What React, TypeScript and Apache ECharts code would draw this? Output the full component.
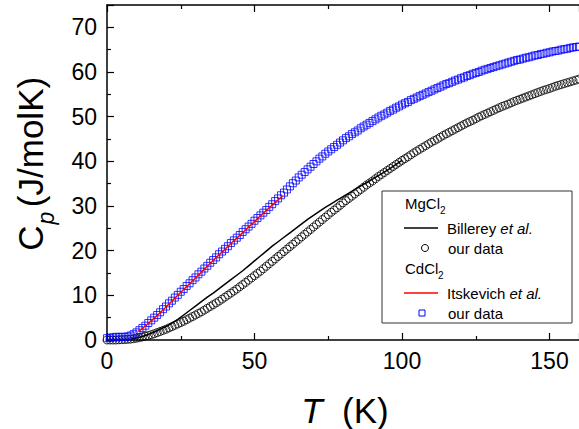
import React, { useEffect, useRef } from "react";
import * as echarts from "echarts";

// Temperature grid (K) shared by the two measured data sets
const temps = [
  0, 1, 2, 3, 4, 5, 6, 7, 8, 9, 10, 11, 12, 13, 14, 15, 16, 17, 18, 19,
  20, 21, 22, 23, 24, 25, 26, 27, 28, 29, 30, 31, 32, 33, 34, 35, 36, 37, 38, 39,
  40, 41, 42, 43, 44, 45, 46, 47, 48, 49, 50, 51, 52, 53, 54, 55, 56, 57, 58, 59,
  60, 61, 62, 63, 64, 65, 66, 67, 68, 69, 70, 71, 72, 73, 74, 75, 76, 77, 78, 79,
  80, 81, 82, 83, 84, 85, 86, 87, 88, 89, 90, 91, 92, 93, 94, 95, 96, 97, 98, 99,
  100, 101, 102, 103, 104, 105, 106, 107, 108, 109, 110, 111, 112, 113, 114, 115, 116, 117, 118, 119,
  120, 121, 122, 123, 124, 125, 126, 127, 128, 129, 130, 131, 132, 133, 134, 135, 136, 137, 138, 139,
  140, 141, 142, 143, 144, 145, 146, 147, 148, 149, 150, 151, 152, 153, 154, 155, 156, 157, 158, 159, 160,
];

// CdCl2, our data (J/molK)
const cdOurs = [
  0.4, 0.5, 0.6, 0.7, 0.7, 0.7, 0.7, 0.8, 1.0, 1.3,
  1.7, 2.2, 2.7, 3.2, 3.8, 4.4, 5.0, 5.6, 6.2, 6.9,
  7.5, 8.2, 8.8, 9.5, 10.1, 10.8, 11.4, 12.1, 12.7, 13.4,
  14.0, 14.7, 15.3, 16.0, 16.6, 17.3, 17.9, 18.5, 19.2, 19.8,
  20.4, 21.0, 21.7, 22.3, 22.9, 23.5, 24.2, 24.8, 25.4, 26.0,
  26.7, 27.3, 27.9, 28.5, 29.1, 29.8, 30.4, 31.1, 31.7, 32.4,
  33.0, 33.7, 34.4, 35.1, 35.7, 36.4, 37.0, 37.6, 38.2, 38.8,
  39.4, 40.0, 40.6, 41.1, 41.7, 42.2, 42.7, 43.2, 43.7, 44.2,
  44.7, 45.2, 45.6, 46.1, 46.5, 46.9, 47.4, 47.8, 48.2, 48.6,
  49.0, 49.4, 49.8, 50.2, 50.5, 50.9, 51.3, 51.6, 52.0, 52.3,
  52.7, 53.0, 53.3, 53.7, 54.0, 54.3, 54.6, 54.9, 55.2, 55.5,
  55.8, 56.1, 56.4, 56.7, 57.0, 57.3, 57.5, 57.8, 58.1, 58.3,
  58.6, 58.8, 59.1, 59.3, 59.6, 59.8, 60.0, 60.3, 60.5, 60.7,
  60.9, 61.1, 61.3, 61.5, 61.7, 61.9, 62.1, 62.3, 62.5, 62.7,
  62.8, 63.0, 63.2, 63.3, 63.5, 63.7, 63.8, 64.0, 64.1, 64.3,
  64.4, 64.6, 64.7, 64.8, 65.0, 65.1, 65.2, 65.4, 65.5, 65.6, 65.7,
];

// MgCl2, our data (J/molK)
const mgOurs = [
  0, 0, 0, 0, 0.05, 0.07, 0.1, 0.15, 0.2, 0.3,
  0.4, 0.55, 0.7, 0.85, 1.0, 1.2, 1.4, 1.65, 1.9, 2.15,
  2.4, 2.7, 3.0, 3.3, 3.6, 3.9, 4.2, 4.55, 4.9, 5.25,
  5.6, 5.95, 6.3, 6.7, 7.1, 7.5, 7.9, 8.3, 8.7, 9.15,
  9.6, 10.05, 10.5, 10.95, 11.4, 11.9, 12.4, 12.9, 13.4, 13.9,
  14.4, 14.9, 15.4, 15.95, 16.5, 17.05, 17.6, 18.15, 18.7, 19.25,
  19.8, 20.35, 20.9, 21.45, 22.0, 22.55, 23.1, 23.65, 24.2, 24.75,
  25.3, 25.85, 26.4, 26.95, 27.5, 28.05, 28.6, 29.1, 29.6, 30.15,
  30.7, 31.2, 31.7, 32.2, 32.7, 33.2, 33.7, 34.2, 34.7, 35.15,
  35.6, 36.1, 36.6, 37.05, 37.5, 37.95, 38.4, 38.85, 39.3, 39.75,
  40.2, 40.6, 41.0, 41.45, 41.9, 42.3, 42.7, 43.1, 43.5, 43.9,
  44.3, 44.65, 45.0, 45.4, 45.8, 46.15, 46.5, 46.85, 47.2, 47.55,
  47.9, 48.25, 48.6, 48.9, 49.2, 49.55, 49.9, 50.2, 50.5, 50.8,
  51.1, 51.4, 51.7, 52.0, 52.3, 52.55, 52.8, 53.1, 53.4, 53.65,
  53.9, 54.15, 54.4, 54.65, 54.9, 55.15, 55.4, 55.65, 55.9, 56.1,
  56.3, 56.55, 56.8, 57.0, 57.2, 57.4, 57.6, 57.8, 58.0, 58.2, 58.4,
];

// Billerey et al. (MgCl2) literature curve
const billereyT = [8, 10, 12, 14, 16, 18, 20, 22, 24, 26, 28, 30, 32, 34, 36, 38, 40, 42, 44, 46, 48, 50,
  52, 54, 56, 58, 60, 62, 64, 66, 68, 70, 72, 74, 76, 78, 80, 82, 84, 86, 88, 90, 92, 94, 96, 98, 100];
const billereyC = [0.2, 0.45, 0.8, 1.25, 1.8, 2.4, 3.0, 3.8, 4.6, 5.6, 6.6, 7.6, 8.6, 9.6, 10.5, 11.5, 12.5,
  13.5, 14.5, 15.5, 16.6, 17.7, 18.8, 19.9, 21.0, 22.0, 23.0, 24.0, 25.0, 26.0, 27.0, 27.9, 28.8, 29.7,
  30.5, 31.3, 32.1, 32.9, 33.7, 34.5, 35.2, 36.0, 36.8, 37.6, 38.4, 39.3, 40.2];

// Itskevich et al. (CdCl2) literature curve
const itskevichT = [10.6, 12, 14, 16, 18, 20, 22, 24, 26, 28, 30, 32, 34, 36, 38, 40, 42, 44, 46, 48, 50,
  52, 54, 56, 58, 59.5];
const itskevichC = [1.9, 2.6, 3.7, 4.9, 6.1, 7.4, 8.7, 10.0, 11.3, 12.6, 13.9, 15.2, 16.5, 17.8, 19.1, 20.3,
  21.6, 22.8, 24.0, 25.3, 26.5, 27.8, 29.0, 30.2, 31.4, 32.2];

const xTicks = [0, 50, 100, 150];
const yTicks = [0, 10, 20, 30, 40, 50, 60, 70];

const FONT = "'Liberation Sans', Arial, sans-serif";
const BLUE = "#0000ff";

export default function App() {
  const ref = useRef<HTMLDivElement>(null);

  useEffect(() => {
    if (!ref.current) return;
    const chart = echarts.init(ref.current, null, { renderer: "svg" });

    const pair = (xs: number[], ys: number[]) => xs.map((x, i) => [x, ys[i]]);

    const axisCommon = {
      axisLine: { show: true, onZero: false, lineStyle: { color: "#000", width: 1.5 } },
      axisTick: { show: true, inside: true, length: 7, lineStyle: { color: "#000", width: 1.2 } },
      minorTick: { show: true, splitNumber: 2, length: 4, lineStyle: { color: "#000", width: 1.2 } },
      splitLine: { show: false },
      minorSplitLine: { show: false },
    };

    const legendX = 382;
    const legendY = 191;

    const option: any = {
      animation: false,
      backgroundColor: "#fff",
      grid: { left: 107, top: 5, right: -2, bottom: 89, containLabel: false },
      xAxis: [
        {
          type: "value",
          min: xTicks[0],
          max: 160,
          interval: 50,
          position: "bottom",
          ...axisCommon,
          axisLabel: {
            show: true,
            fontSize: 23,
            color: "#000",
            fontFamily: FONT,
            margin: 9,
            showMaxLabel: false,
            formatter: (v: number) => (xTicks.includes(v) ? String(v) : ""),
          },
        },
        {
          type: "value",
          min: xTicks[0],
          max: 160,
          interval: 50,
          position: "top",
          ...axisCommon,
          axisLabel: { show: false },
        },
      ],
      yAxis: [
        {
          type: "value",
          min: yTicks[0],
          max: 75,
          interval: 10,
          ...axisCommon,
          axisLabel: {
            show: true,
            fontSize: 23,
            color: "#000",
            fontFamily: FONT,
            margin: 10,
            showMaxLabel: false,
            formatter: (v: number) => (yTicks.includes(v) ? String(v) : ""),
          },
        },
      ],
      series: [
        {
          name: "MgCl2 our data",
          type: "scatter",
          data: pair(temps, mgOurs),
          symbol: "circle",
          symbolSize: 8,
          itemStyle: { color: "rgba(0,0,0,0)", borderColor: "#000", borderWidth: 1 },
          z: 2,
        },
        {
          name: "Billerey et al.",
          type: "line",
          data: pair(billereyT, billereyC),
          showSymbol: false,
          symbol: "none",
          lineStyle: { color: "#000", width: 1.5 },
          z: 3,
        },
        {
          name: "CdCl2 our data",
          type: "scatter",
          data: pair(temps, cdOurs),
          symbol: "rect",
          symbolSize: 7,
          itemStyle: { color: "rgba(0,0,0,0)", borderColor: BLUE, borderWidth: 1 },
          z: 4,
        },
        {
          name: "Itskevich et al.",
          type: "line",
          data: pair(itskevichT, itskevichC),
          showSymbol: false,
          symbol: "none",
          lineStyle: { color: "#ff0000", width: 1.5 },
          z: 5,
        },
      ],
      graphic: [
        // axis titles
        {
          type: "text",
          x: 345,
          y: 410,
          style: {
            text: "{i|T}  (K)",
            font: `35px ${FONT}`,
            fill: "#000",
            align: "center",
            verticalAlign: "middle",
            rich: { i: { fontStyle: "italic", fontSize: 35, fontFamily: FONT } },
          },
        },
        {
          type: "text",
          x: 30,
          y: 142,
          rotation: Math.PI / 2,
          style: {
            text: "(J/molK)",
            font: `35px ${FONT}`,
            fill: "#000",
            align: "center",
            verticalAlign: "middle",
          },
        },
        {
          type: "text",
          x: 30,
          y: 238,
          rotation: Math.PI / 2,
          style: {
            text: "C",
            font: `35px ${FONT}`,
            fill: "#000",
            align: "center",
            verticalAlign: "middle",
          },
        },
        {
          type: "text",
          x: 46,
          y: 218,
          rotation: Math.PI / 2,
          style: {
            text: "p",
            font: `italic 23px ${FONT}`,
            fill: "#000",
            align: "center",
            verticalAlign: "middle",
          },
        },
        // legend box
        {
          type: "rect",
          shape: { x: legendX, y: legendY, width: 190, height: 132 },
          style: { fill: "#fff", stroke: "#333", lineWidth: 1 },
          z: 10,
        },
        {
          type: "text",
          x: 405,
          y: 203,
          z: 11,
          style: { text: "MgCl", font: `15px ${FONT}`, fill: "#000", verticalAlign: "middle" },
        },
        {
          type: "text",
          x: 440,
          y: 210,
          z: 11,
          style: { text: "2", font: `10px ${FONT}`, fill: "#000", verticalAlign: "middle" },
        },
        {
          type: "line",
          z: 11,
          shape: { x1: 404, y1: 228, x2: 438, y2: 228 },
          style: { stroke: "#000", lineWidth: 1.5 },
        },
        {
          type: "text",
          x: 447,
          y: 228,
          z: 11,
          style: {
            text: "Billerey {i|et al.}",
            font: `15px ${FONT}`,
            fill: "#000",
            verticalAlign: "middle",
            rich: { i: { fontStyle: "italic", fontSize: 15, fontFamily: FONT } },
          },
        },
        {
          type: "circle",
          z: 11,
          shape: { cx: 425, cy: 248, r: 3.5 },
          style: { fill: "none", stroke: "#000", lineWidth: 1 },
        },
        {
          type: "text",
          x: 448,
          y: 248,
          z: 11,
          style: { text: "our data", font: `15px ${FONT}`, fill: "#000", verticalAlign: "middle" },
        },
        {
          type: "text",
          x: 405,
          y: 268,
          z: 11,
          style: { text: "CdCl", font: `15px ${FONT}`, fill: "#000", verticalAlign: "middle" },
        },
        {
          type: "text",
          x: 438,
          y: 275,
          z: 11,
          style: { text: "2", font: `10px ${FONT}`, fill: "#000", verticalAlign: "middle" },
        },
        {
          type: "line",
          z: 11,
          shape: { x1: 404, y1: 293, x2: 438, y2: 293 },
          style: { stroke: "#ff0000", lineWidth: 1.5 },
        },
        {
          type: "text",
          x: 447,
          y: 293,
          z: 11,
          style: {
            text: "Itskevich {i|et al.}",
            font: `15px ${FONT}`,
            fill: "#000",
            verticalAlign: "middle",
            rich: { i: { fontStyle: "italic", fontSize: 15, fontFamily: FONT } },
          },
        },
        {
          type: "rect",
          z: 11,
          shape: { x: 419, y: 310, width: 6, height: 6 },
          style: { fill: "none", stroke: BLUE, lineWidth: 1 },
        },
        {
          type: "text",
          x: 448,
          y: 313,
          z: 11,
          style: { text: "our data", font: `15px ${FONT}`, fill: "#000", verticalAlign: "middle" },
        },
      ],
    };

    chart.setOption(option);
    return () => chart.dispose();
  }, []);

  return (
    <div
      ref={ref}
      style={{ position: "fixed", left: 0, top: 0, width: 579, height: 429, background: "#fff" }}
    />
  );
}
